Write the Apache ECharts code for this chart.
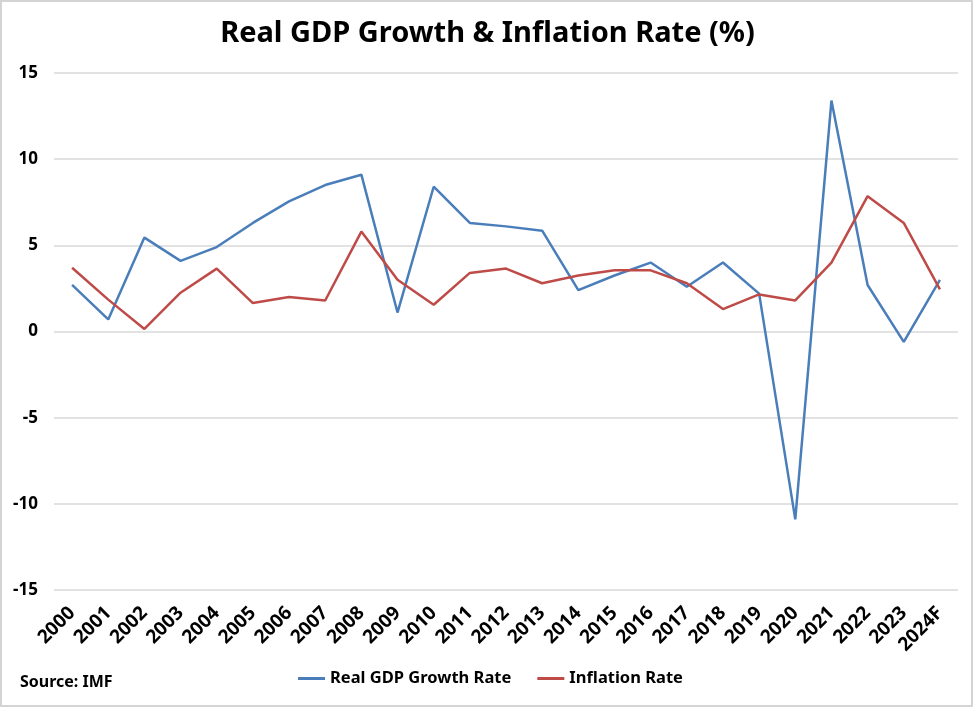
<!DOCTYPE html>
<html>
<head>
<meta charset="utf-8">
<script src="https://cdn.jsdelivr.net/npm/echarts@6/dist/echarts.min.js"></script>
<style>
  html, body { margin: 0; padding: 0; background: #fff; }
  #chart { width: 975px; height: 708px; }
</style>
</head>
<body>
<div id="chart"></div>
<script>
const years = ['2000', '2001', '2002', '2003', '2004', '2005', '2006', '2007', '2008', '2009',
  '2010', '2011', '2012', '2013', '2014', '2015', '2016', '2017', '2018', '2019',
  '2020', '2021', '2022', '2023', '2024F'];
const gdpGrowth = [2.7, 0.7, 5.45, 4.1, 4.9, 6.3, 7.55, 8.5, 9.1, 1.1,
  8.4, 6.3, 6.1, 5.85, 2.4, 3.25, 4.0, 2.6, 4.0, 2.2,
  -10.9, 13.4, 2.7, -0.6, 3.0];
const inflation = [3.7, 1.85, 0.15, 2.25, 3.65, 1.65, 2.0, 1.8, 5.8, 3.0,
  1.55, 3.4, 3.65, 2.8, 3.25, 3.55, 3.55, 2.8, 1.3, 2.15,
  1.8, 4.0, 7.85, 6.3, 2.45];
const yTicks = { min: -15, max: 15, step: 5 };

const font = '"Noto Sans", sans-serif';
const chart = echarts.init(document.getElementById('chart'));

chart.setOption({
  animation: false,
  textStyle: { fontFamily: font },
  title: {
    text: 'Real GDP Growth & Inflation Rate (%)',
    left: 'center',
    top: 14,
    textStyle: { fontSize: 29, fontWeight: 'bold', color: '#000', fontFamily: font }
  },
  grid: { left: 54, right: 17, top: 73, bottom: 118 },
  legend: {
    bottom: 16,
    left: 293,
    icon: 'rect',
    itemWidth: 27,
    itemHeight: 3,
    itemGap: 26,
    textStyle: { fontSize: 16.5, color: '#000', fontFamily: font, fontWeight: 'bold' },
    data: ['Real GDP Growth Rate', 'Inflation Rate']
  },
  graphic: [
    {
      type: 'rect',
      shape: { x: 1, y: 1, width: 971, height: 705 },
      style: { fill: 'none', stroke: '#d4d4d4', lineWidth: 2 }
    },
    {
      type: 'text',
      left: 20,
      top: 674,
      style: { text: 'Source: IMF', fontSize: 16, fontWeight: 'bold', fill: '#000', fontFamily: font }
    }
  ],
  xAxis: {
    type: 'category',
    data: years,
    boundaryGap: true,
    axisLine: { show: false, onZero: false },
    axisTick: { show: false },
    axisLabel: {
      rotate: 45,
      margin: 20,
      interval: 0,
      fontSize: 19,
      fontWeight: 'bold',
      color: '#000',
      fontFamily: font
    }
  },
  yAxis: {
    type: 'value',
    min: yTicks.min,
    max: yTicks.max,
    interval: yTicks.step,
    axisLine: { show: false },
    axisTick: { show: false },
    axisLabel: { fontSize: 17, fontWeight: 'bold', color: '#000', margin: 16, fontFamily: font },
    splitLine: { lineStyle: { color: '#d9d9d9', width: 1.5 } }
  },
  series: [
    {
      name: 'Real GDP Growth Rate',
      type: 'line',
      data: gdpGrowth,
      symbol: 'none',
      lineStyle: { color: '#4A7EBB', width: 2.5 },
      itemStyle: { color: '#4A7EBB' }
    },
    {
      name: 'Inflation Rate',
      type: 'line',
      data: inflation,
      symbol: 'none',
      lineStyle: { color: '#BE4B48', width: 2.5 },
      itemStyle: { color: '#BE4B48' }
    }
  ]
});
</script>
</body>
</html>
